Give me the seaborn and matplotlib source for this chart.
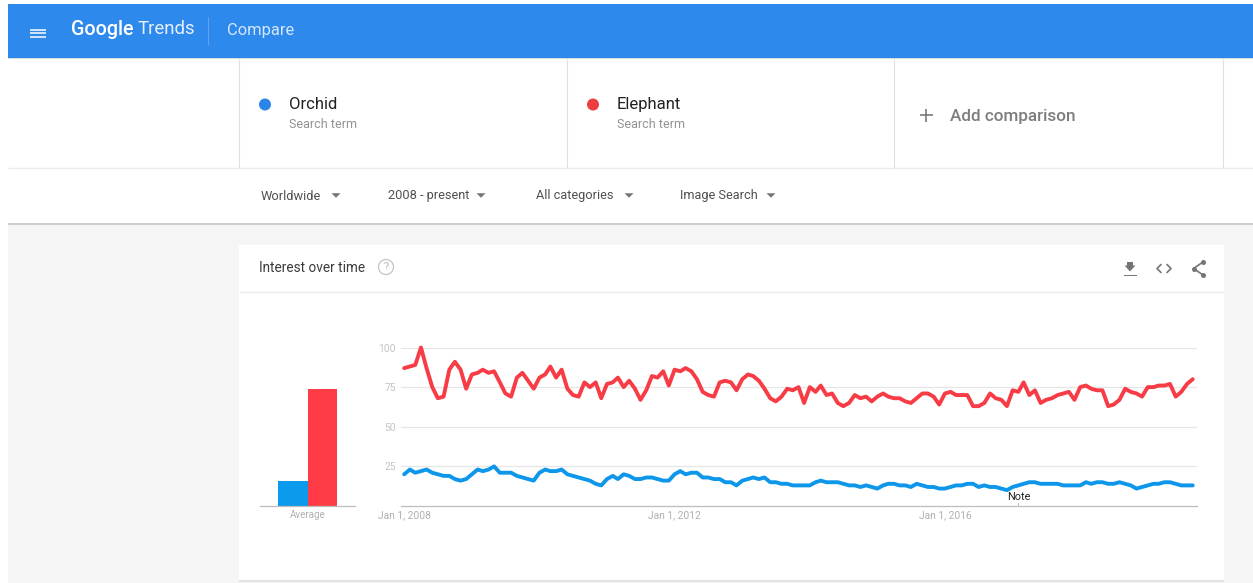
import matplotlib
matplotlib.use('Agg')
import matplotlib.pyplot as plt
import matplotlib.dates as mdates
from matplotlib.patches import Rectangle, Circle, Polygon
import pandas as pd
import seaborn as sns

# ---------------- DATOS ----------------
terms = ['Orchid', 'Elephant']
averages = [16, 74]
y_ticks = [25, 50, 75, 100]
date_ticks = ['2008-01-01', '2012-01-01', '2016-01-01']
date_labels = ['Jan 1, 2008', 'Jan 1, 2012', 'Jan 1, 2016']
filters = ['Worldwide', '2008 - present', 'All categories', 'Image Search']

orchid = [20, 23, 21, 22, 23, 21, 20, 19, 19, 17, 16, 17, 20, 23, 22, 23, 25, 21, 21, 21,
          19, 18, 17, 16, 21, 23, 22, 22, 23, 20, 19, 18, 17, 16, 14, 13, 17, 19, 17, 20,
          19, 17, 17, 18, 18, 17, 16, 16, 20, 22, 20, 21, 21, 18, 18, 17, 17, 15, 15, 13,
          16, 17, 18, 17, 18, 15, 15, 14, 14, 13, 13, 13, 13, 15, 16, 15, 15, 15, 14, 13,
          13, 12, 13, 12, 11, 13, 14, 14, 13, 13, 12, 14, 13, 12, 12, 11, 11, 12, 13, 13,
          14, 14, 12, 13, 12, 12, 11, 10, 12, 13, 14, 15, 15, 14, 14, 14, 14, 13, 13, 13,
          13, 15, 14, 15, 15, 14, 14, 15, 14, 13, 11, 12, 13, 14, 14, 15, 15, 14, 13, 13, 13]

elephant = [87, 88, 89, 100, 87, 75, 68, 69, 86, 91, 86, 74, 83, 84, 86, 84, 85, 78, 71, 69,
            81, 84, 79, 74, 81, 83, 88, 81, 86, 74, 70, 69, 78, 75, 78, 68, 77, 78, 81, 75,
            79, 74, 67, 73, 82, 81, 85, 76, 86, 85, 87, 85, 80, 72, 70, 69, 78, 79, 78, 73,
            80, 83, 82, 79, 74, 68, 66, 69, 74, 73, 75, 65, 75, 72, 76, 70, 71, 65, 63, 65,
            70, 68, 69, 66, 69, 71, 69, 68, 68, 66, 65, 68, 71, 71, 69, 64, 71, 72, 70, 70,
            70, 63, 63, 65, 71, 68, 67, 63, 73, 72, 78, 70, 73, 65, 67, 68, 70, 71, 72, 67,
            75, 76, 74, 73, 73, 63, 64, 67, 74, 72, 71, 69, 75, 75, 76, 76, 77, 69, 72, 77, 80]

months = pd.date_range('2008-01-01', periods=len(orchid), freq='MS')

BLUE_LINE = '#0e97ea'
RED_LINE = '#f83c46'
HEADER = '#2d89ec'
GREY_TXT = '#929292'
ICON = '#757575'

sns.set_style('white')
plt.rcParams['font.family'] = ['Roboto', 'DejaVu Sans']

W, H = 1253, 583
fig = plt.figure(figsize=(W / 100, H / 100), dpi=100, facecolor='white')


def px_axes(x0, y0, x1, y1):
    # caja en pixeles de la imagen (y hacia abajo)
    return fig.add_axes([x0 / W, (H - y1) / H, (x1 - x0) / W, (y1 - y0) / H])


# ---------------- PAGINA (fondo, cabecera, tarjetas) ----------------
bg = fig.add_axes([0, 0, 1, 1], zorder=0)
bg.set_xlim(0, W)
bg.set_ylim(H, 0)
bg.axis('off')


def rect(x0, y0, x1, y1, color, z=1):
    bg.add_patch(Rectangle((x0, y0), x1 - x0, y1 - y0, facecolor=color, edgecolor='none', zorder=z))


def hline(x0, x1, y, color='#e4e4e4', lw=0.8):
    bg.plot([x0, x1], [y, y], color=color, lw=lw, solid_capstyle='butt', zorder=2)


def vline(x, y0, y1, color='#e0e0e0', lw=0.8):
    bg.plot([x, x], [y0, y1], color=color, lw=lw, solid_capstyle='butt', zorder=2)


def txt(x, y, s, size, color='#3c3c3c', **kw):
    bg.text(x, y, s, fontsize=size, color=color, va='center', zorder=3, **kw)


def tri(x, y, half=4, tall=4, color=ICON):
    bg.add_patch(Polygon([(x - half, y - tall / 2), (x + half, y - tall / 2), (x, y + tall / 2)],
                         facecolor=color, edgecolor='none', zorder=3))


rect(8, 224, W, H, '#f5f5f5')
rect(8, 222.5, W, 224.5, '#cdcdcd')
rect(8, 4, W, 58, HEADER)
rect(8, 58, W, 59, '#d3dbe4')
rect(239, 245, 1224, 580, 'white')
rect(239, 580, 1224, 581.5, '#e2e2e2')
hline(239, 1224, 292, '#ececec', 1.0)
hline(8, W, 168, '#ececec', 1.0)

# cabecera
for y in [29.5, 33, 36.5]:
    hline(30, 46, y, 'white', 1.1)
txt(70.5, 29.5, 'Google', 14.2, 'white', fontweight='medium')
txt(137.5, 29.5, 'Trends', 13.4, '#e6f0fc')
vline(207.5, 17, 45, '#5da3ef', 0.8)
txt(227, 30, 'Compare', 11.9, '#d6e6fa')

# terminos
for x in [239, 566.5, 894, 1223]:
    vline(x, 59, 168)
for x, term, c in zip([265, 593], terms, ['#2a85ea', '#ee3d3d']):
    bg.add_patch(Circle((x, 104.5), 6, facecolor=c, edgecolor='none', zorder=3))
    txt(x + 24, 104.5, term, 12, '#222222')
    txt(x + 24, 125, 'Search term', 9, GREY_TXT)
hline(919.5, 932.5, 115, '#6f6f6f', 1.1)
vline(926, 108.5, 121.5, '#6f6f6f', 1.1)
txt(950, 116, 'Add comparison', 12.3, '#7d7d7d', fontweight='medium')

# filtros
for x, tri_x, label in zip([261, 388, 536, 680], [336, 481, 629, 771], filters):
    txt(x, 196, label, 9.2, '#505050')
    tri(tri_x, 195.5, 4.5, 4.5)

# barra de la tarjeta
txt(259, 268.5, 'Interest over time', 9.8, '#3c3c3c')
bg.add_patch(Circle((386, 267), 7.5, facecolor='none', edgecolor='#c4c4c4', lw=0.9, zorder=3))
txt(386, 267, '?', 8, '#b8b8b8', ha='center')
# iconos
tri(1130, 268.5, 5.5, 6)
rect(1127, 262, 1133, 266, ICON, 3)
rect(1123.5, 274.5, 1136.5, 276, ICON, 3)
bg.plot([1161, 1157, 1161], [264.5, 268.5, 272.5], color=ICON, lw=1.2, zorder=3)
bg.plot([1167, 1171, 1167], [264.5, 268.5, 272.5], color=ICON, lw=1.2, zorder=3)
bg.plot([1203, 1193.5, 1203], [262, 268.5, 275], color=ICON, lw=1.2, marker='o', ms=3.6, mew=0, zorder=3)

# ---------------- GRAFICO DE LINEAS ----------------
ax = px_axes(401, 347.5, 1197, 506)
ax.patch.set_alpha(0)
ax.set_zorder(5)
sns.lineplot(x=months, y=orchid, color=BLUE_LINE, linewidth=2.8, ax=ax, clip_on=False, zorder=4)
sns.lineplot(x=months, y=elephant, color=RED_LINE, linewidth=2.8, ax=ax, clip_on=False, zorder=4)
ax.set_xlim(mdates.date2num(pd.Timestamp('2007-12-15')), mdates.date2num(pd.Timestamp('2019-09-24')))
ax.set_ylim(0, 100)
ax.set_yticks(y_ticks)
ax.set_yticklabels(y_ticks, fontsize=7.4, color='#c4c4c4')
ax.set_xticks(mdates.date2num(pd.to_datetime(date_ticks)))
ax.set_xticklabels(date_labels, fontsize=7.4, color='#b0b0b0')
ax.tick_params(axis='y', length=0, pad=3.6)
ax.tick_params(axis='x', length=0, pad=3)
ax.grid(axis='y', color='#e6e6e6', lw=0.9)
ax.set_axisbelow(True)
sns.despine(ax=ax, left=True, top=True, right=True)
ax.spines['bottom'].set_color('#bdbdbd')
ax.spines['bottom'].set_linewidth(0.9)
ax.set_xlabel('')
ax.set_ylabel('')

# nota
note_x = mdates.date2num(pd.Timestamp('2017-02-01'))
ax.annotate('Note', xy=(note_x, 0), xytext=(0, 6.3), textcoords='offset points',
            ha='center', va='center', fontsize=7.8, color='#222222', zorder=6)
ax.plot([note_x, note_x], [0, 2], color='#bdbdbd', lw=0.8)

# ---------------- BARRAS DEL PROMEDIO ----------------
ax_bar = px_axes(260, 347.5, 355, 506)
ax_bar.patch.set_alpha(0)
ax_bar.set_zorder(5)
sns.barplot(x=terms, y=averages, hue=terms, palette=['#0a9bed', '#ff3c46'],
            width=1.0, saturation=1, linewidth=0, legend=False, ax=ax_bar)
ax_bar.set_xlim(-1.11, 2.11)
ax_bar.set_ylim(0, 100)
ax_bar.set_yticks([])
ax_bar.set_xticks([0.5])
ax_bar.set_xticklabels(['Average'], fontsize=7, color='#b0b0b0')
ax_bar.tick_params(axis='x', length=0, pad=3)
sns.despine(ax=ax_bar, left=True, top=True, right=True)
ax_bar.spines['bottom'].set_color('#bdbdbd')
ax_bar.spines['bottom'].set_linewidth(0.9)
ax_bar.set_xlabel('')
ax_bar.set_ylabel('')

plt.savefig('out.png', dpi=100)
